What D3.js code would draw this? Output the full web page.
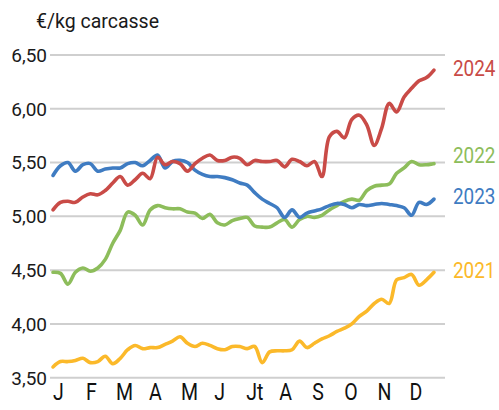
<!DOCTYPE html>
<html>
<head>
<meta charset="utf-8">
<script src="https://cdn.jsdelivr.net/npm/d3@7"></script>
<style>
  body { margin: 0; background: #fff; }
  text { font-family: Roboto, "Noto Sans", sans-serif; }
</style>
</head>
<body>
<svg width="499" height="410"></svg>
<script>
// DATA

// weekly prices, €/kg carcasse, weeks 1..52
var years = ["2021", "2022", "2023", "2024"];

var v2021 = [3.60, 3.65, 3.65, 3.66, 3.68, 3.64, 3.65, 3.70, 3.63, 3.68,
             3.76, 3.80, 3.77, 3.78, 3.78, 3.81, 3.84, 3.88, 3.82, 3.79,
             3.82, 3.80, 3.77, 3.76, 3.79, 3.79, 3.77, 3.79, 3.64, 3.74,
             3.75, 3.75, 3.76, 3.84, 3.78, 3.82, 3.86, 3.89, 3.93, 3.96,
             4.00, 4.07, 4.12, 4.19, 4.23, 4.19, 4.41, 4.43, 4.46, 4.36,
             4.41, 4.48];

var v2022 = [4.48, 4.47, 4.37, 4.48, 4.52, 4.49, 4.52, 4.60, 4.75, 4.87,
             5.04, 5.01, 4.92, 5.06, 5.10, 5.08, 5.07, 5.07, 5.04, 5.03,
             4.98, 5.02, 4.94, 4.92, 4.96, 4.98, 4.99, 4.91, 4.90, 4.90,
             4.94, 4.97, 4.90, 4.97, 5.00, 4.99, 5.01, 5.06, 5.10, 5.14,
             5.16, 5.15, 5.24, 5.28, 5.29, 5.30, 5.40, 5.45, 5.51, 5.48,
             5.48, 5.49];

var v2023 = [5.38, 5.47, 5.50, 5.42, 5.48, 5.49, 5.42, 5.44, 5.45, 5.45,
             5.49, 5.50, 5.47, 5.52, 5.57, 5.45, 5.51, 5.52, 5.50, 5.43,
             5.39, 5.37, 5.37, 5.36, 5.34, 5.31, 5.29, 5.22, 5.16, 5.12,
             5.08, 4.99, 5.06, 4.99, 5.03, 5.05, 5.07, 5.10, 5.12, 5.11,
             5.08, 5.11, 5.10, 5.11, 5.12, 5.11, 5.10, 5.08, 5.01, 5.13,
             5.11, 5.16];

var v2024 = [5.06, 5.13, 5.14, 5.13, 5.18, 5.21, 5.20, 5.24, 5.31, 5.37,
             5.29, 5.34, 5.40, 5.35, 5.55, 5.48, 5.51, 5.49, 5.42, 5.49,
             5.54, 5.57, 5.52, 5.52, 5.55, 5.54, 5.48, 5.52, 5.51, 5.51,
             5.52, 5.46, 5.53, 5.51, 5.47, 5.51, 5.37, 5.74, 5.79, 5.73,
             5.90, 5.94, 5.85, 5.66, 5.82, 6.05, 5.97, 6.11, 6.19, 6.26,
             6.29, 6.36];

var colors = ["#fbb92a", "#8dbd5b", "#3f7cc2", "#c94b47"];

// where the year label sits, in €/kg
var labelLevels = [4.50, 5.57, 5.19, 6.38];

var months = ["J", "F", "M", "A", "M", "J", "Jt", "A", "S", "O", "N", "D"];
var monthStartDay = [0, 31, 59, 90, 120, 151, 181, 212, 243, 273, 304, 334];

var yTicks = [3.5, 4.0, 4.5, 5.0, 5.5, 6.0, 6.5];

var series = [v2021, v2022, v2023, v2024];

// VIEW

var svg = d3.select("svg");

var x = d3.scaleLinear().domain([0, 51]).range([53, 434]);
var y = d3.scaleLinear().domain([3.5, 6.5]).range([377.7, 55]);

var fmt = function(d) { return d3.format(".2f")(d).replace(".", ","); };

// Title
svg.append("text")
    .attr("x", 36)
    .attr("y", 28)
    .attr("font-size", "19.5px")
    .attr("fill", "#1a1a1a")
    .text("€/kg carcasse");

// Gridlines + tick labels
var grid = svg.append("g");
grid.selectAll("line")
    .data(yTicks)
  .enter().append("line")
    .attr("x1", 50)
    .attr("x2", 445)
    .attr("y1", function(d) { return y(d); })
    .attr("y2", function(d) { return y(d); })
    .attr("stroke", "#cfcfcf")
    .attr("stroke-width", 2);

grid.selectAll("text")
    .data(yTicks)
  .enter().append("text")
    .attr("x", 47)
    .attr("y", function(d) { return y(d); })
    .attr("dy", "0.36em")
    .attr("text-anchor", "end")
    .attr("font-size", "19px")
    .attr("fill", "#1a1a1a")
    .text(fmt);

// Month labels (left edge at start of month)
svg.append("g").selectAll("text")
    .data(months)
  .enter().append("text")
    .attr("transform", function(d, i) {
      return "translate(" + x(monthStartDay[i] / 7) + ",400) scale(0.85,1)";
    })
    .attr("font-size", "23px")
    .attr("fill", "#111")
    .text(function(d) { return d; });

// Lines
var line = d3.line()
    .x(function(d, i) { return x(i); })
    .y(function(d) { return y(d); })
    .curve(d3.curveCatmullRom.alpha(0.5));

svg.append("g").selectAll("path")
    .data(series)
  .enter().append("path")
    .attr("d", line)
    .attr("fill", "none")
    .attr("stroke", function(d, i) { return colors[i]; })
    .attr("stroke-width", 3.6)
    .attr("stroke-linejoin", "round")
    .attr("stroke-linecap", "round");

// Year labels
svg.append("g").selectAll("text")
    .data(years)
  .enter().append("text")
    .attr("transform", function(d, i) {
      return "translate(453," + y(labelLevels[i]) + ") scale(0.86,1)";
    })
    .attr("dy", "0.36em")
    .attr("font-size", "22px")
    .attr("fill", function(d, i) { return colors[i]; })
    .text(function(d) { return d; });
</script>
</body>
</html>
